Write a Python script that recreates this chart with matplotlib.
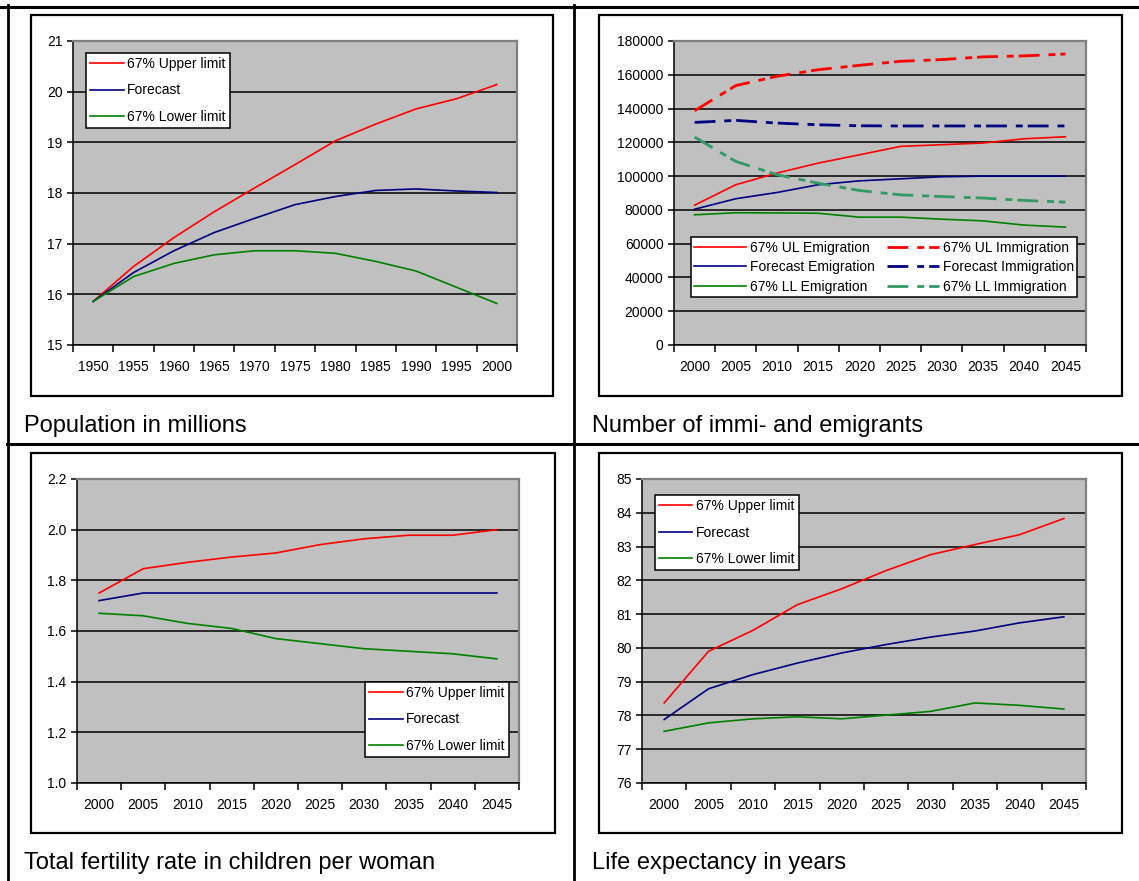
import numpy as np
import matplotlib
matplotlib.use("Agg")
import matplotlib.pyplot as plt
from matplotlib.patches import Rectangle
from matplotlib.lines import Line2D

plt.rcParams['font.family'] = ['Liberation Sans', 'DejaVu Sans']

# --- data ---
pop_years = ['1950', '1955', '1960', '1965', '1970', '1975', '1980', '1985', '1990', '1995', '2000']
pop_upper = [15.86, 16.55, 17.12, 17.63, 18.10, 18.56, 19.03, 19.36, 19.66, 19.86, 20.14]
pop_fcst = [15.86, 16.43, 16.86, 17.22, 17.50, 17.77, 17.93, 18.05, 18.08, 18.04, 18.01]
pop_lower = [15.86, 16.35, 16.61, 16.78, 16.86, 16.86, 16.81, 16.65, 16.46, 16.14, 15.82]

fc_years = ['2000', '2005', '2010', '2015', '2020', '2025', '2030', '2035', '2040', '2045']

em_ul = [82800, 94900, 101800, 107700, 112600, 117600, 118600, 119600, 122100, 123300]
em_fc = [80400, 86600, 90300, 94900, 97200, 98400, 99600, 100000, 100000, 100000]
em_ll = [77100, 78300, 78200, 78000, 75700, 75700, 74500, 73500, 71000, 69800]
im_ul = [138700, 153600, 159100, 163000, 165600, 168000, 169000, 170600, 171200, 172300]
im_fc = [131800, 133000, 131400, 130400, 129800, 129700, 129700, 129700, 129700, 129700]
im_ll = [123100, 108700, 100800, 95800, 91500, 88900, 87900, 87000, 85600, 84600]

tfr_upper = [1.75, 1.846, 1.871, 1.892, 1.908, 1.941, 1.964, 1.978, 1.978, 2.00]
tfr_fcst = [1.72, 1.75, 1.75, 1.75, 1.75, 1.75, 1.75, 1.75, 1.75, 1.75]
tfr_lower = [1.67, 1.66, 1.63, 1.61, 1.57, 1.55, 1.53, 1.52, 1.51, 1.49]

le_upper = [78.37, 79.90, 80.52, 81.28, 81.75, 82.29, 82.76, 83.06, 83.35, 83.83]
le_fcst = [77.88, 78.79, 79.21, 79.55, 79.85, 80.10, 80.32, 80.50, 80.74, 80.92]
le_lower = [77.53, 77.78, 77.90, 77.96, 77.90, 78.01, 78.12, 78.37, 78.30, 78.19]

captions = ['Population in millions', 'Number of immi- and emigrants',
            'Total fertility rate in children per woman', 'Life expectancy in years']

RED = '#FF0000'
NAVY = '#000080'
GREEN = '#008000'
TEAL = '#339966'

W, H = 1139, 881
fig = plt.figure(figsize=(W / 100, H / 100), dpi=100)
fig.patch.set_facecolor('white')


def px_axes(l, t, r, b):
    return fig.add_axes([l / W, 1 - b / H, (r - l) / W, (b - t) / H])


def frame(l, t, r, b):
    fig.patches.append(Rectangle((l / W, 1 - b / H), (r - l) / W, (b - t) / H,
                                 transform=fig.transFigure, facecolor='white',
                                 edgecolor='black', linewidth=1.6, zorder=-1))


def hline(y, x0, x1, lw):
    fig.lines.append(Line2D([x0 / W, x1 / W], [1 - y / H, 1 - y / H],
                            transform=fig.transFigure, color='black', lw=lw, zorder=-1))


def vline(x, y0, y1, lw):
    fig.lines.append(Line2D([x / W, x / W], [1 - y0 / H, 1 - y1 / H],
                            transform=fig.transFigure, color='black', lw=lw, zorder=-1))


def style(ax, cats, yticks, fmt):
    n = len(cats)
    ax.set_facecolor('#C0C0C0')
    ax.set_xlim(-0.5, n - 0.5)
    ax.set_ylim(yticks[0], yticks[-1])
    ax.set_xticks(np.arange(-0.5, n, 1.0))
    ax.set_xticklabels([])
    ax.set_xticks(np.arange(n), minor=True)
    ax.set_xticklabels(cats, minor=True)
    ax.tick_params(axis='x', which='major', direction='out', length=5, width=1.1, color='black')
    ax.tick_params(axis='x', which='minor', length=0, pad=10.5, labelsize=10)
    ax.set_yticks(yticks)
    ax.set_yticklabels([fmt(v) for v in yticks])
    ax.tick_params(axis='y', direction='out', length=4.5, width=1.1, pad=3, labelsize=10)
    ax.set_axisbelow(True)
    ax.yaxis.grid(True, color='black', lw=1.1)
    for s in ['left', 'bottom']:
        ax.spines[s].set_color('black')
        ax.spines[s].set_linewidth(1.1)
    for s in ['top', 'right']:
        ax.spines[s].set_color('#808080')
        ax.spines[s].set_linewidth(1.6)


def legend3(ax, loc, anchor):
    leg = ax.legend(loc=loc, bbox_to_anchor=anchor, borderaxespad=0, fontsize=10,
                    fancybox=False, framealpha=1, edgecolor='black',
                    handlelength=2.4, handletextpad=0.25, labelspacing=0.88,
                    borderpad=0.3)
    leg.get_frame().set_linewidth(1.1)


# table lines
hline(6.5, 0, W, 2.2)
hline(444, 7, W, 2.2)
vline(8, 5, H, 2.0)
vline(574, 5, H, 2.0)

# frames
frame(31, 15, 553, 396)
frame(599, 15, 1122, 396)
frame(31, 453, 555, 833)
frame(599, 453, 1122, 833)

# chart 1: population
ax1 = px_axes(73, 41, 517, 345)
x = np.arange(len(pop_years))
ax1.plot(x, pop_upper, color=RED, lw=1.2, label='67% Upper limit')
ax1.plot(x, pop_fcst, color=NAVY, lw=1.2, label='Forecast')
ax1.plot(x, pop_lower, color=GREEN, lw=1.2, label='67% Lower limit')
style(ax1, pop_years, list(range(15, 22)), lambda v: '%d' % v)
legend3(ax1, 'upper left', (0.03, 0.9605))

# chart 2: migration
ax2 = px_axes(674, 41, 1086, 345)
x = np.arange(len(fc_years))
dash = (0, (7.5, 3.2, 2.5, 1.8))
ax2.plot(x, em_ul, color=RED, lw=1.2, label='67% UL Emigration')
ax2.plot(x, em_fc, color=NAVY, lw=1.2, label='Forecast Emigration')
ax2.plot(x, em_ll, color=GREEN, lw=1.2, label='67% LL Emigration')
ax2.plot(x, im_ul, color=RED, lw=2.0, ls=dash, label='67% UL Immigration')
ax2.plot(x, im_fc, color=NAVY, lw=2.0, ls=dash, label='Forecast Immigration')
ax2.plot(x, im_ll, color=TEAL, lw=2.0, ls=dash, label='67% LL Immigration')
style(ax2, fc_years, list(range(0, 180001, 20000)), lambda v: '%d' % v)
leg = ax2.legend(loc='upper left', bbox_to_anchor=(0.041, 0.355), borderaxespad=0,
                 ncol=2, fontsize=10, fancybox=False, framealpha=1, edgecolor='black',
                 handlelength=3.7, handletextpad=0.3, labelspacing=0.4,
                 columnspacing=0.9, borderpad=0.25)
leg.get_frame().set_linewidth(1.1)

# chart 3: fertility
ax3 = px_axes(77, 479, 519, 783)
ax3.plot(x, tfr_upper, color=RED, lw=1.2, label='67% Upper limit')
ax3.plot(x, tfr_fcst, color=NAVY, lw=1.2, label='Forecast')
ax3.plot(x, tfr_lower, color=GREEN, lw=1.2, label='67% Lower limit')
style(ax3, fc_years, [1.0, 1.2, 1.4, 1.6, 1.8, 2.0, 2.2], lambda v: '%.1f' % v)
legend3(ax3, 'upper right', (0.977, 0.332))

# chart 4: life expectancy
ax4 = px_axes(642, 479, 1086, 783)
ax4.plot(x, le_upper, color=RED, lw=1.2, label='67% Upper limit')
ax4.plot(x, le_fcst, color=NAVY, lw=1.2, label='Forecast')
ax4.plot(x, le_lower, color=GREEN, lw=1.2, label='67% Lower limit')
style(ax4, fc_years, list(range(76, 86)), lambda v: '%d' % v)
legend3(ax4, 'upper left', (0.029, 0.947))

# captions
fig.text(24 / W, 1 - 426 / H, captions[0], fontsize=17, va='center', ha='left')
fig.text(592 / W, 1 - 426 / H, captions[1], fontsize=17, va='center', ha='left')
fig.text(24 / W, 1 - 863 / H, captions[2], fontsize=17, va='center', ha='left')
fig.text(592 / W, 1 - 863 / H, captions[3], fontsize=17, va='center', ha='left')

fig.savefig('out.png', dpi=100)
